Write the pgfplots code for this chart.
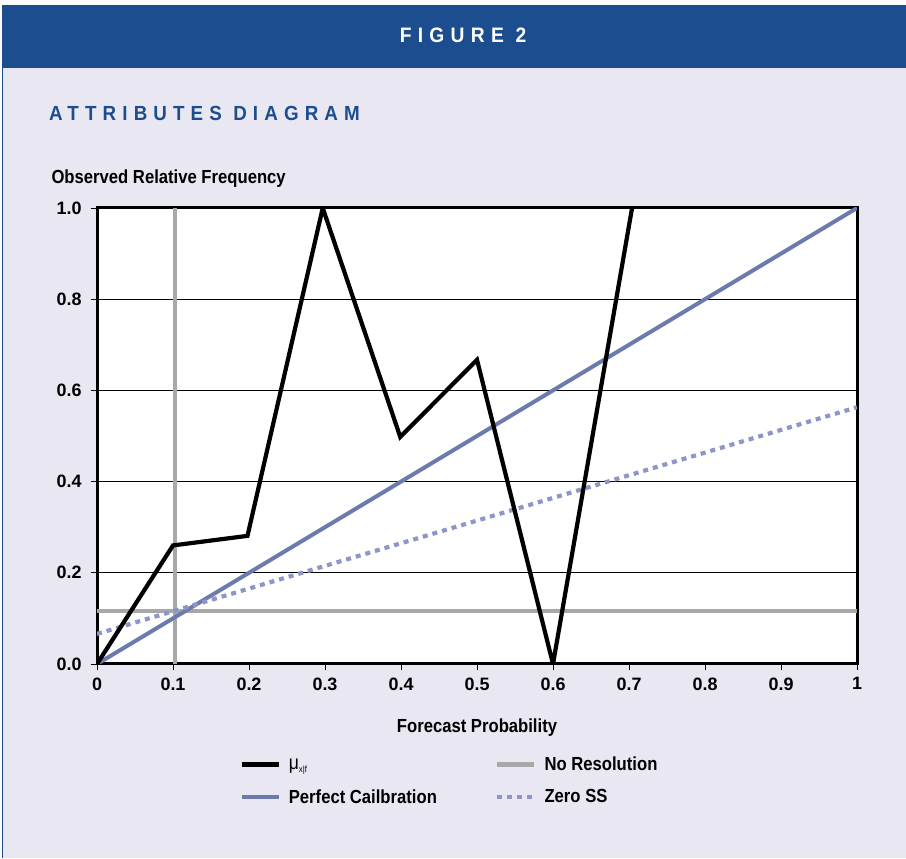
\documentclass[border=0pt]{standalone}
\usepackage{pgfplots}
\pgfplotsset{compat=1.18}
\usepackage{fontspec}
\setmainfont{Liberation Sans}
\newfontfamily\condfont[FakeStretch=0.88]{Liberation Sans}
\newfontfamily\spacedfont[LetterSpace=30,FakeStretch=0.92]{Liberation Sans}
\definecolor{hdrblue}{HTML}{1C4D8E}
\definecolor{bglav}{HTML}{E9E8F2}
\definecolor{perfblue}{HTML}{6B7BAE}
\definecolor{zeroblue}{HTML}{8D96C6}
\definecolor{nores}{HTML}{A8A8A8}
\begin{document}
\begin{tikzpicture}[x=1bp,y=1bp]
\fill[white] (0,0) rectangle (906,858);
\fill[bglav] (2,0) rectangle (906,853);
\draw[hdrblue,line width=0.8bp] (2.4,0) -- (2.4,853);
\fill[hdrblue] (2,790) rectangle (906,853);
\node[white,font=\spacedfont\bfseries\fontsize{21}{24}\selectfont] at (463,823) {FIGURE 2};
\node[hdrblue,anchor=base west,font=\spacedfont\bfseries\fontsize{20.5}{24}\selectfont,inner sep=0] at (49,737) {ATTRIBUTES DIAGRAM};
\begin{axis}[
  at={(97bp,194bp)}, anchor=south west,
  width=760bp, height=456bp, scale only axis,
  xmin=0, xmax=1, ymin=0, ymax=1,
  axis background/.style={fill=white},
  axis line style={line width=3bp, black},
  xtick={0,0.1,0.2,0.3,0.4,0.5,0.6,0.7,0.8,0.9,1},
  xticklabels={0,0.1,0.2,0.3,0.4,0.5,0.6,0.7,0.8,0.9,1},
  ytick={0,0.2,0.4,0.6,0.8,1},
  yticklabels={0.0,0.2,0.4,0.6,0.8,1.0},
  tick align=outside, tick pos=left,
  major tick length=6bp,
  every tick/.style={black, line width=0.8bp},
  tick label style={font=\bfseries\fontsize{18}{20}\selectfont, black},
  xticklabel style={yshift=-4bp},
  yticklabel style={xshift=-6bp},
  ymajorgrids, major grid style={black, line width=0.9bp},
  xlabel={Forecast Probability},
  every axis x label/.style={at={(axis description cs:0.5,0)}, anchor=center, yshift=-64bp, font=\condfont\bfseries\fontsize{19}{21}\selectfont},
  ylabel={Observed Relative Frequency},
  every axis y label/.style={at={(axis description cs:0,1)}, anchor=base west, xshift=-49bp, yshift=24bp, font=\condfont\bfseries\fontsize{19}{21}\selectfont},
  legend columns=2,
  legend cell align=left,
  legend style={at={(axis description cs:0.183,0)}, anchor=north west, yshift=-89bp, draw=none, fill=none,
    font=\condfont\bfseries\fontsize{19}{21}\selectfont, row sep=13bp,
    /tikz/every odd column/.append style={column sep=6bp},
    /tikz/every even column/.append style={column sep=56bp}},
  legend image code/.code={\draw[#1] (0bp,0bp) -- (37bp,0bp);},
]
\addplot[nores, line width=4.2bp, forget plot] coordinates {(0.103,0) (0.103,1)};
\addplot[nores, line width=4.2bp, forget plot] coordinates {(0,0.116) (1,0.116)};
\addplot[perfblue, line width=4bp, forget plot] coordinates {(0,0) (1,1)};
\addplot[zeroblue, line width=4.2bp, dash pattern=on 5bp off 5bp, forget plot] coordinates {(0,0.066) (1,0.563)};
\addplot[black, line width=4.2bp, forget plot] coordinates {(0,0) (0.1,0.26) (0.198,0.281) (0.297,1.0) (0.399,0.498) (0.5,0.667) (0.6,0) (0.704,1.0)};
\addlegendimage{black, line width=4.6bp}
\addlegendentry{\fontsize{20}{21}\selectfont\mdseries μ\raisebox{-0.35ex}{\fontsize{9}{10}\selectfont x|f}}
\addlegendimage{nores, line width=4.6bp}
\addlegendentry{No Resolution}
\addlegendimage{perfblue, line width=4.6bp}
\addlegendentry{Perfect Cailbration}
\addlegendimage{zeroblue, line width=4.6bp, dash pattern=on 5bp off 5bp}
\addlegendentry{Zero SS}
\end{axis}
\end{tikzpicture}
\end{document}
